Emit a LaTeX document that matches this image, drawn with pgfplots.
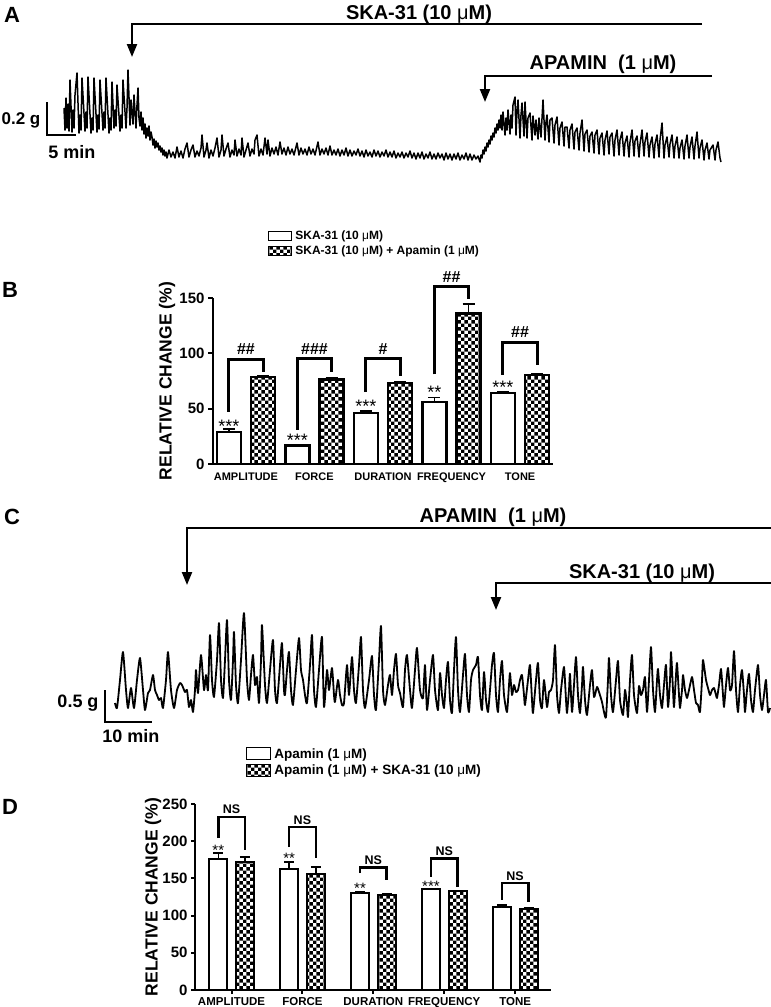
\documentclass[border=0pt]{standalone}
\usepackage{fontspec}
\setmainfont{Liberation Sans}
\usepackage{pgfplots}
\pgfplotsset{compat=1.18}
\usetikzlibrary{patterns.meta, arrows.meta}

\newcommand{\fs}[1]{\fontsize{#1bp}{#1bp}\selectfont}
\newcommand{\um}{{\mdseries μ}}

\tikzdeclarepattern{
  name=checker,
  type=uncolored,
  bottom left={(0bp,0bp)},
  top right={(7.4bp,7.4bp)},
  tile size={(7.4bp,7.4bp)},
  code={
    \fill (0bp,0bp) rectangle (3.7bp,3.7bp);
    \fill (3.7bp,3.7bp) rectangle (7.4bp,7.4bp);
  }
}

\pgfplotsset{
  barax/.style={
    scale only axis, clip=false,
    axis lines*=left, axis line style={line width=2.4bp, black},
    tick align=outside,
    tick style={line width=2bp, black},
    /pgf/number format/assume math mode=true,
    every axis y label/.style={rotate=90, anchor=center},
  },
  boxlegB/.style={legend image code/.code={\draw[##1, line width=1.2bp] (0bp,-4.5bp) rectangle (23bp,4.5bp);}},
  boxlegD/.style={legend image code/.code={\draw[##1, line width=1.2bp] (0bp,-6bp) rectangle (24bp,6bp);}},
}
\tikzset{sig/.style={line width=3bp, black}}

\begin{document}
\begin{tikzpicture}
\path[use as bounding box] (0bp,0bp) rectangle (771bp,1007bp);

% traces, scale bars and drug arrows (picture pixels, y downward)
\begin{axis}[at={(0bp,0bp)}, anchor=south west, scale only axis,
  width=771bp, height=1007bp, xmin=0, xmax=771, ymin=0, ymax=1007,
  y dir=reverse, hide axis, clip=false]

\addplot[black, line width=1.5bp, mark=none, line join=round] coordinates {
(64,108) (65,130) (66,98) (67,128) (68,104) (69,131) (70,80) (72,132) (73,110) (74,128) (75,95) (77,73) (79,133) (80,115) (81,130) (82,78) (85,131) (86,112) (87,128) (88,77) (91,133) (92,118) (93,130) (94,78) (97,132) (98,115) (99,129) (100,80) (103,130) (104,112) (105,128) (106,78) (109,133) (110,118) (111,130) (112,82) (114,128) (115,110) (116,126) (117,85) (120,131) (121,115) (122,128) (123,80) (126,128) (127,108) (128,70) (130,125) (131,100) (133,124) (134,95) (136,128) (137,105) (138,88) (139,118) (140,126) (141,112) (142,130) (143,118) (144,134) (145,124) (146,138) (147,128) (148,136) (149,126) (150,140) (151,132) (152,137) (153,145) (154,139) (155,148) (156,141) (157,147) (158,143) (159,150) (160,146) (161,152) (162,148) (163,155) (164,150) (165,156) (166,152) (167,158)
(169,150) (171,157) (173,152) (175,158) (177,147) (179,157) (181,151) (183,158) (185,149) (187,143) (189,157) (191,150) (193,145) (195,157) (197,151) (199,156) (201,148) (202,135) (204,157) (206,150) (207,143) (209,158) (211,150) (213,156) (215,148) (217,138) (219,157) (221,150) (222,135) (224,156) (226,149) (228,143) (230,157) (232,150) (234,155) (235,140) (237,156) (239,149) (241,155) (242,138) (244,157) (246,150) (248,143) (250,156) (252,149) (254,154) (255,140) (257,135) (259,156) (261,149) (263,155) (265,138) (267,154) (268,140) (270,156) (272,148) (274,154) (276,147) (278,155) (280,142) (282,154) (284,148) (286,155) (288,147) (290,154) (292,149) (294,155) (297,143) (299,155) (301,148) (303,154) (305,149) (307,155) (309,147) (311,154) (313,149) (315,155) (318,142) (320,155) (322,149) (324,154) (326,148) (328,155) (330,146) (332,155) (334,150) (336,155) (338,149) (340,156) (342,150) (344,155) (346,148) (348,156) (350,150) (352,156) (354,151) (356,155) (358,149) (360,156) (362,151) (364,157) (366,150) (368,156) (370,152) (372,157) (374,150) (376,156) (378,151) (380,157) (382,152) (384,156) (386,150) (388,157) (390,152) (392,157) (394,151) (396,158) (398,153) (400,157) (402,152) (404,158) (406,153) (408,157) (410,151) (412,158) (414,153) (416,159) (418,153) (420,158) (422,152) (424,159) (426,154) (428,158) (430,152) (432,159) (434,154) (436,159) (438,153) (440,158) (442,154) (444,160) (446,153) (448,159) (450,154) (452,160) (454,154) (456,159) (458,153) (460,160) (462,155) (464,159) (466,153) (468,160) (470,154) (472,160) (474,155) (476,159) (478,156) (480,162)
(481,155) (482,158) (483,150) (484,154) (485,147) (486,151) (487,143) (488,147) (489,140) (490,144) (491,136) (492,140) (493,133) (494,137) (495,128) (496,133) (497,124) (498,130) (499,120) (500,128) (501,115) (502,130) (503,112) (505,135) (506,118) (507,130) (508,110) (510,134) (511,115) (512,128) (513,105) (515,97) (516,135) (517,112) (518,100) (520,138) (521,115) (522,103) (524,136) (525,102) (527,138) (528,118) (530,113) (532,140) (533,116) (535,135) (536,120) (538,139) (539,118) (541,137) (543,100) (545,140) (546,122) (547,115) (549,142) (550,120) (552,118) (554,143) (555,125) (557,117) (559,145) (560,128) (562,122) (564,146) (565,127) (567,127) (569,148) (570,130) (572,124) (574,149) (575,132) (577,128) (579,150) (580,133) (582,120) (584,151) (585,134) (587,130) (589,152) (590,136) (592,132) (594,153) (595,135) (597,130) (599,154) (600,138) (602,133) (604,155) (605,140) (607,131) (609,154) (610,137) (612,133) (614,156) (615,140) (617,130) (619,155) (620,140) (622,132) (624,156) (625,143) (627,136) (629,157) (630,142) (632,130) (634,156) (635,141) (637,136) (639,157) (640,144) (642,130) (644,156) (645,142) (647,133) (649,157) (650,145) (652,137) (654,158) (655,144) (657,135) (659,157) (660,140) (662,123) (664,158) (665,145) (667,137) (669,157) (670,144) (672,135) (674,158) (675,146) (677,137) (679,158) (680,148) (682,140) (684,159) (685,146) (687,135) (689,158) (690,147) (692,137) (694,159) (695,146) (697,132) (699,158) (700,148) (702,140) (704,160) (705,150) (707,143) (709,159) (710,150) (713,145) (715,160) (716,150) (718,142) (720,158) (721,162)
};

\addplot[black, line width=1.8bp, mark=none, smooth, tension=0.35, line join=round] coordinates {
(115,703) (117,708) (120,680) (123,652) (126,690) (128,708) (131,688) (134,708) (137,680) (140,658) (143,690) (145,710) (148,693) (150,690) (153,675) (155,690) (157,695) (159,700) (161,698) (163,708) (166,680) (168,652) (171,690) (174,708) (177,690) (180,683) (182,685) (185,692) (187,690) (189,707) (191,700) (193,712) (195,690) (196,670) (198,693) (201,655) (204,690) (206,675) (208,690) (210,635) (212,680) (214,697) (217,660) (219,623) (221,680) (223,698) (225,660) (227,620) (229,680) (231,700) (233,660) (234,632) (236,685) (238,703) (241,660) (244,613) (247,680) (249,700) (251,675) (253,655) (255,685) (257,677) (259,703) (261,660) (262,625) (265,685) (267,703) (270,670) (273,640) (275,690) (277,703) (280,665) (282,643) (284,690) (285,695) (287,670) (289,652) (291,690) (293,705) (296,670) (299,638) (301,670) (303,680) (305,695) (307,703) (310,665) (312,635) (314,690) (316,707) (319,670) (322,637) (324,707) (327,670) (329,690) (332,668) (334,695) (335,702) (338,680) (340,695) (342,705) (344,703) (347,665) (349,695) (352,657) (354,690) (356,703) (359,665) (361,637) (363,690) (365,708) (369,680) (372,656) (374,695) (376,710) (379,660) (381,626) (383,690) (385,705) (388,685) (390,675) (392,695) (394,670) (396,654) (398,685) (400,693) (403,707) (405,670) (407,655) (410,690) (412,708) (415,670) (417,648) (420,690) (423,698) (425,665) (427,710) (430,680) (433,655) (435,690) (438,710) (440,673) (442,695) (444,708) (446,680) (448,662) (450,700) (452,713) (454,670) (456,637) (458,690) (460,712) (463,675) (465,654) (467,695) (469,712) (471,680) (473,670) (476,665) (478,657) (480,695) (482,710) (484,672) (486,700) (488,712) (490,690) (492,665) (494,653) (496,695) (498,712) (500,680) (502,661) (504,695) (507,712) (509,685) (510,673) (512,695) (514,685) (516,692) (518,690) (520,680) (522,675) (524,695) (525,705) (528,680) (530,665) (532,700) (533,713) (536,680) (538,663) (540,700) (542,708) (544,680) (547,707) (549,692) (551,690) (553,680) (555,645) (557,695) (559,713) (561,690) (564,667) (566,700) (567,713) (569,690) (570,674) (572,712) (574,685) (576,657) (578,695) (580,713) (582,685) (583,667) (585,700) (587,715) (590,685) (592,670) (594,697) (597,687) (599,692) (602,702) (604,712) (606,717) (608,680) (609,658) (611,695) (613,712) (616,680) (618,661) (620,700) (623,715) (625,690) (627,705) (628,717) (630,680) (632,655) (634,695) (637,713) (639,686) (641,695) (643,690) (645,677) (647,712) (649,680) (651,647) (653,690) (655,712) (657,680) (658,669) (660,695) (662,708) (664,685) (666,665) (668,707) (670,680) (671,652) (673,690) (674,707) (676,675) (677,663) (679,695) (680,708) (682,690) (683,675) (685,690) (687,698) (689,690) (692,677) (694,690) (696,703) (698,705) (700,712) (702,680) (703,660) (706,680) (708,688) (710,695) (712,690) (714,688) (716,695) (717,698) (719,685) (721,669) (723,695) (724,707) (726,685) (728,668) (730,690) (732,685) (734,651) (736,690) (738,712) (740,685) (742,670) (744,695) (745,712) (747,690) (749,674) (751,700) (753,712) (755,690) (758,665) (760,695) (762,710) (764,695) (766,680) (768,712) (770,708)
};

% panel letters
\node[font=\bfseries\fs{22}] at (axis cs:12,15) {A};
\node[font=\bfseries\fs{22}] at (axis cs:10,290) {B};
\node[font=\bfseries\fs{22}] at (axis cs:12,517) {C};
\node[font=\bfseries\fs{22}] at (axis cs:10,807) {D};

% panel A
\draw[line width=2.2bp, -{Triangle[length=13bp,width=10bp]}] (axis cs:702,24) -- (axis cs:132,24) -- (axis cs:132,57);
\draw[line width=2.2bp, -{Triangle[length=13bp,width=10bp]}] (axis cs:712,76) -- (axis cs:485,76) -- (axis cs:485,102);
\node[font=\bfseries\fs{20}] at (axis cs:419,14) {SKA-31 (10 \um M)};
\node[font=\bfseries\fs{20}] at (axis cs:603,64) {APAMIN\ \ (1 \um M)};
\draw[line width=2bp] (axis cs:47,102) -- (axis cs:47,135) -- (axis cs:76,135);
\node[font=\bfseries\fs{17}] at (axis cs:21,120) {0.2 g};
\node[font=\bfseries\fs{18}] at (axis cs:72,152) {5 min};

% panel C
\draw[line width=2.2bp, -{Triangle[length=13bp,width=10bp]}] (axis cs:771,528) -- (axis cs:187,528) -- (axis cs:187,585);
\draw[line width=2.2bp, -{Triangle[length=13bp,width=10bp]}] (axis cs:771,583) -- (axis cs:496,583) -- (axis cs:496,610);
\node[font=\bfseries\fs{20}] at (axis cs:493,517) {APAMIN\ \ (1 \um M)};
\node[font=\bfseries\fs{20}] at (axis cs:642,573) {SKA-31 (10 \um M)};
\draw[line width=2bp] (axis cs:105,690) -- (axis cs:105,722) -- (axis cs:152,722);
\node[font=\bfseries\fs{18}] at (axis cs:78,703) {0.5 g};
\node[font=\bfseries\fs{18}] at (axis cs:131,736) {10 min};
\end{axis}

% panel B
\begin{axis}[barax,
  at={(213bp,543bp)}, anchor=south west, width=340bp, height=166bp,
  xmin=-0.48, xmax=4.48, ymin=0, ymax=150,
  ytick={0,50,100,150}, xtick={0,1,2,3,4},
  xticklabels={AMPLITUDE,FORCE,DURATION,FREQUENCY,TONE},
  xtick style={draw=none}, major tick length=5bp,
  yticklabel style={font=\bfseries\fs{15}},
  xticklabel style={font=\bfseries\fs{11}},
  ylabel={RELATIVE CHANGE (\%)},
  ylabel style={font=\bfseries\fs{17.5}, at={(axis description cs:-0.135,0.5)}},
  legend style={at={(axis description cs:0.153,1.422)}, anchor=north west,
    draw=none, fill=none, font=\bfseries\fs{12}, row sep=2.5bp,
    column sep=2bp, nodes={inner sep=1bp}},
  legend cell align=left,
]
\addplot[ybar, bar shift=0pt, bar width=24bp, fill=white, draw=black, line width=2.5bp, boxlegB,
  error bars/.cd, y dir=plus, y explicit,
  error bar style={line width=1.5bp}, error mark options={rotate=90, mark size=6bp, line width=1.5bp}]
  coordinates {(-0.25,29) +- (0,2.5) (0.75,16.5) +- (0,1) (1.75,46) +- (0,2) (2.75,56) +- (0,4) (3.75,64) +- (0,1)};
\addplot[ybar, bar shift=0pt, bar width=24bp, pattern=checker, draw=black, line width=2.5bp, boxlegB,
  error bars/.cd, y dir=plus, y explicit,
  error bar style={line width=1.5bp}, error mark options={rotate=90, mark size=6bp, line width=1.5bp}]
  coordinates {(0.25,78.5) +- (0,1) (1.25,76.5) +- (0,1) (2.25,73) +- (0,1) (3.25,136) +- (0,8.5) (4.25,80.5) +- (0,1)};
\legend{SKA-31 (10 \um M), SKA-31 (10 \um M) + Apamin (1 \um M)}
\draw[sig] (axis cs:-0.25,47) -- (axis cs:-0.25,94) -- (axis cs:0.25,94) -- (axis cs:0.25,83);
\draw[sig] (axis cs:0.75,31) -- (axis cs:0.75,95) -- (axis cs:1.25,95) -- (axis cs:1.25,83);
\draw[sig] (axis cs:1.75,65) -- (axis cs:1.75,95) -- (axis cs:2.25,95) -- (axis cs:2.25,79.5);
\draw[sig] (axis cs:2.75,81) -- (axis cs:2.75,160) -- (axis cs:3.25,160) -- (axis cs:3.25,149);
\draw[sig] (axis cs:3.75,80.5) -- (axis cs:3.75,110) -- (axis cs:4.25,110) -- (axis cs:4.25,89.5);
\begin{scope}[every node/.style={font=\bfseries\fs{16}}]
\node at (axis cs:0,104) {\#\#};
\node at (axis cs:1,104) {\#\#\#};
\node at (axis cs:2,104) {\#};
\node at (axis cs:3,169) {\#\#};
\node at (axis cs:4,119) {\#\#};
\end{scope}
\begin{scope}[every node/.style={font=\fs{18}, yshift=-4bp}]
\node at (axis cs:-0.25,38) {***};
\node at (axis cs:0.75,25) {***};
\node at (axis cs:1.75,56) {***};
\node at (axis cs:2.75,68) {**};
\node at (axis cs:3.75,73) {***};
\end{scope}
\end{axis}

% panel D
\begin{axis}[barax,
  at={(195bp,17bp)}, anchor=south west, width=356bp, height=186bp,
  xmin=-0.515, xmax=4.506, ymin=0, ymax=250,
  ytick={0,50,100,150,200,250}, xtick={0,1,2,3,4},
  xticklabels={AMPLITUDE,FORCE,DURATION,FREQUENCY,TONE},
  major tick length=4bp,
  axis line style={line width=2bp},
  yticklabel style={font=\bfseries\fs{15}},
  xticklabel style={font=\bfseries\fs{11.5}},
  ylabel={RELATIVE CHANGE (\%)},
  ylabel style={font=\bfseries\fs{17.5}, at={(axis description cs:-0.118,0.5)}},
  legend style={at={(axis description cs:0.135,1.317)}, anchor=north west,
    draw=none, fill=none, font=\bfseries\fs{13.5}, row sep=3bp,
    column sep=2bp, nodes={inner sep=1bp}},
  legend cell align=left,
]
\addplot[ybar, bar shift=0pt, bar width=18bp, fill=white, draw=black, line width=2bp, boxlegD,
  error bars/.cd, y dir=plus, y explicit,
  error bar style={line width=1.5bp}, error mark options={rotate=90, mark size=5bp, line width=1.5bp}]
  coordinates {(-0.187,176) +- (0,8) (0.813,163) +- (0,9) (1.813,130) +- (0,2) (2.813,135.5) +- (0,0.5) (3.813,111) +- (0,3)};
\addplot[ybar, bar shift=0pt, bar width=18bp, pattern=checker, draw=black, line width=2bp, boxlegD,
  error bars/.cd, y dir=plus, y explicit,
  error bar style={line width=1.5bp}, error mark options={rotate=90, mark size=5bp, line width=1.5bp}]
  coordinates {(0.19,172) +- (0,7) (1.19,156) +- (0,9) (2.19,128) +- (0,1.5) (3.19,133) +- (0,0.5) (4.19,109) +- (0,2)};
\legend{Apamin (1 \um M), Apamin (1 \um M) + SKA-31 (10 \um M)}
\draw[sig, line width=2.6bp] (axis cs:-0.187,204) -- (axis cs:-0.187,232.5) -- (axis cs:0.19,232.5) -- (axis cs:0.19,188);
\draw[sig, line width=2.6bp] (axis cs:0.813,192) -- (axis cs:0.813,219) -- (axis cs:1.19,219) -- (axis cs:1.19,177);
\draw[sig, line width=2.6bp] (axis cs:1.813,157) -- (axis cs:1.813,165) -- (axis cs:2.19,165) -- (axis cs:2.19,148);
\draw[sig, line width=2.6bp] (axis cs:2.813,152) -- (axis cs:2.813,177) -- (axis cs:3.19,177) -- (axis cs:3.19,138);
\draw[sig, line width=2.6bp] (axis cs:3.813,121) -- (axis cs:3.813,144) -- (axis cs:4.19,144) -- (axis cs:4.19,118);
\begin{scope}[every node/.style={font=\bfseries\fs{12.5}}]
\node at (axis cs:0,243) {NS};
\node at (axis cs:1,228) {NS};
\node at (axis cs:2,175) {NS};
\node at (axis cs:3,187) {NS};
\node at (axis cs:4,153) {NS};
\end{scope}
\begin{scope}[every node/.style={font=\fs{15}, yshift=-3bp}]
\node at (axis cs:-0.187,192) {**};
\node at (axis cs:0.813,181) {**};
\node at (axis cs:1.813,140) {**};
\node at (axis cs:2.813,144) {***};
\end{scope}
\end{axis}
\end{tikzpicture}
\end{document}
